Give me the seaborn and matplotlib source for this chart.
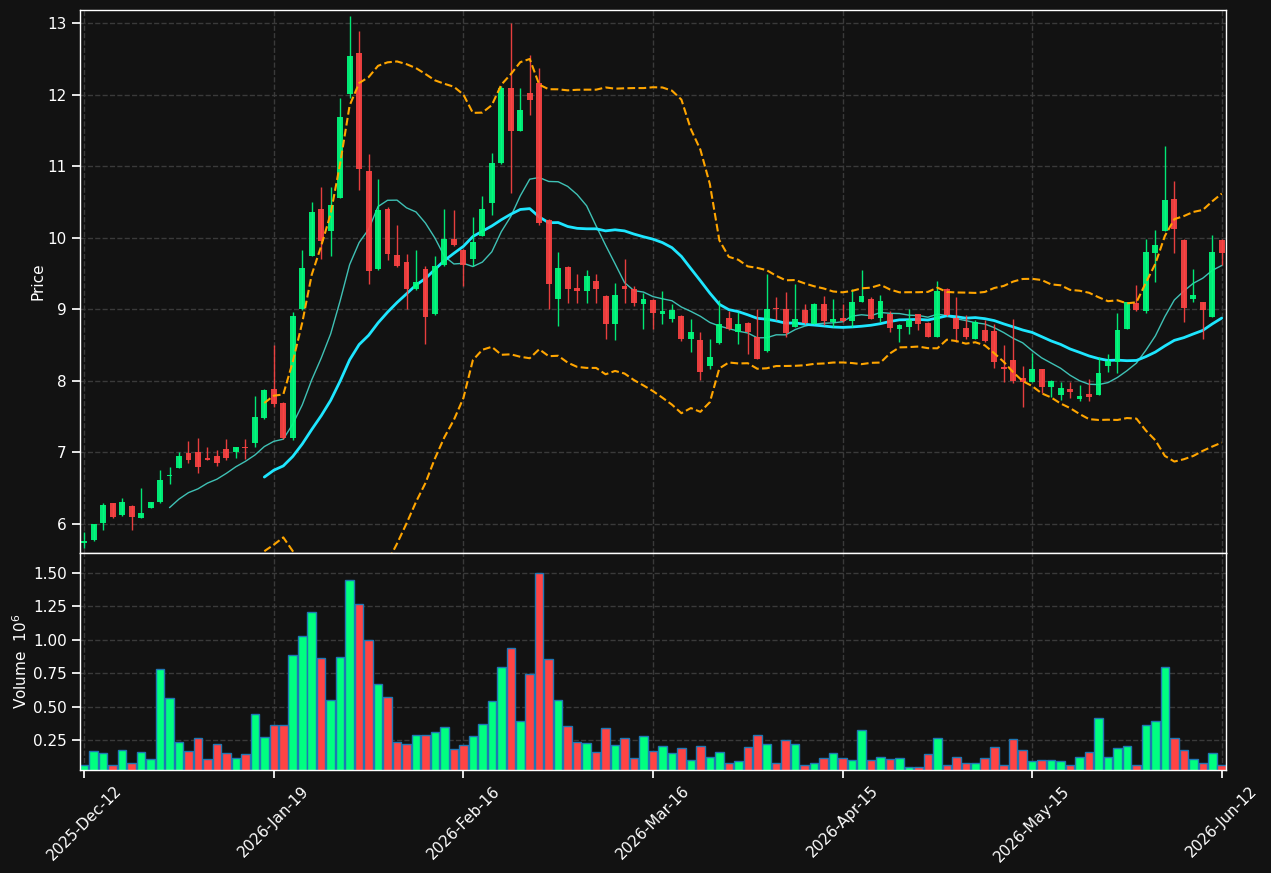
import numpy as np
import pandas as pd
import matplotlib
matplotlib.use('agg')
import matplotlib.pyplot as plt
import seaborn as sns

# daily OHLC (121 sessions)
opens = [5.74, 5.78, 6.01, 6.29, 6.12, 6.25, 6.09, 6.23, 6.31, 6.67,
         6.79, 6.99, 7.00, 6.92, 6.95, 7.05, 7.01, 7.08, 7.13, 7.48,
         7.89, 7.69, 7.20, 9.00, 9.75, 10.40, 10.10, 10.56, 12.01, 12.58,
         10.94, 9.56, 10.40, 9.76, 9.66, 9.28, 9.57, 8.93, 9.62, 9.99,
         9.83, 9.71, 10.03, 10.48, 11.04, 12.10, 11.50, 12.02, 12.16, 10.25,
         9.15, 9.59, 9.30, 9.26, 9.40, 9.19, 8.79, 9.33, 9.29, 9.07,
         9.13, 8.94, 8.87, 8.91, 8.59, 8.57, 8.21, 8.53, 8.88, 8.69,
         8.81, 8.61, 8.42, 9.02, 9.01, 8.76, 8.99, 8.80, 9.08, 8.83,
         8.88, 8.84, 9.11, 9.14, 8.88, 8.94, 8.73, 8.76, 8.93, 8.81,
         8.62, 9.29, 8.88, 8.74, 8.59, 8.71, 8.70, 8.19, 8.29, 8.04,
         7.99, 8.16, 7.91, 7.80, 7.89, 7.75, 7.82, 7.80, 8.21, 8.26,
         8.73, 9.09, 8.98, 9.79, 10.10, 10.54, 9.97, 9.15, 9.10, 8.90,
         9.97]
highs = [5.89, 6.00, 6.30, 6.30, 6.37, 6.26, 6.51, 6.31, 6.75, 6.80,
         7.00, 7.16, 7.20, 7.08, 7.04, 7.19, 7.08, 7.19, 7.79, 7.89,
         8.50, 7.70, 8.97, 9.83, 10.50, 10.71, 10.71, 11.96, 13.10, 12.89,
         11.17, 10.82, 10.43, 10.18, 9.78, 9.83, 9.61, 9.75, 10.40, 10.39,
         9.84, 10.29, 10.59, 11.19, 12.12, 13.00, 12.09, 12.56, 12.38, 10.27,
         9.80, 9.60, 9.49, 9.55, 9.49, 9.20, 9.37, 9.70, 9.33, 9.23,
         9.14, 9.26, 9.07, 8.92, 8.86, 8.68, 8.58, 9.13, 8.98, 8.97,
         8.82, 9.00, 9.50, 9.18, 9.25, 9.36, 9.08, 9.09, 9.19, 9.14,
         9.08, 9.29, 9.55, 9.17, 9.20, 8.98, 8.79, 9.00, 8.94, 8.83,
         9.40, 9.30, 9.17, 8.92, 8.85, 8.85, 8.80, 8.50, 8.86, 8.21,
         8.39, 8.17, 8.01, 7.99, 7.98, 7.94, 8.03, 8.34, 8.38, 8.95,
         9.11, 9.34, 9.98, 10.11, 11.28, 10.80, 9.98, 9.56, 9.11, 10.04,
         9.98]
lows = [5.67, 5.77, 5.91, 6.08, 6.11, 5.91, 6.08, 6.22, 6.30, 6.56,
        6.78, 6.86, 6.71, 6.89, 6.81, 6.90, 6.92, 6.91, 7.07, 7.47,
        7.63, 7.19, 7.18, 8.99, 9.74, 9.70, 9.75, 10.55, 11.96, 10.67,
        9.36, 9.55, 9.69, 9.59, 9.00, 9.27, 8.51, 8.92, 9.61, 9.89,
        9.32, 9.60, 10.02, 10.32, 11.03, 10.62, 11.49, 11.72, 10.18, 9.00,
        8.77, 9.09, 9.09, 9.09, 9.09, 8.59, 8.57, 9.09, 9.05, 8.72,
        8.72, 8.80, 8.83, 8.56, 8.40, 8.01, 8.16, 8.52, 8.71, 8.52,
        8.37, 8.30, 8.41, 8.85, 8.61, 8.75, 8.80, 8.79, 8.78, 8.76,
        8.83, 8.75, 9.10, 8.86, 8.83, 8.69, 8.55, 8.65, 8.71, 8.61,
        8.61, 8.91, 8.55, 8.59, 8.58, 8.55, 8.18, 7.99, 7.97, 7.63,
        7.98, 7.83, 7.78, 7.74, 7.76, 7.72, 7.72, 7.80, 8.12, 8.11,
        8.72, 8.98, 8.95, 9.38, 10.09, 9.79, 8.82, 9.10, 8.59, 8.89,
        9.62]
closes = [5.76, 6.00, 6.27, 6.10, 6.31, 6.10, 6.15, 6.31, 6.61, 6.69,
          6.95, 6.90, 6.80, 6.90, 6.86, 6.92, 7.07, 7.06, 7.49, 7.88,
          7.68, 7.20, 8.91, 9.58, 10.36, 9.96, 10.46, 11.69, 12.54, 10.96,
          9.53, 10.39, 9.78, 9.60, 9.29, 9.38, 8.90, 9.60, 9.98, 9.90,
          9.62, 9.94, 10.40, 11.04, 12.10, 11.50, 11.79, 11.93, 10.21, 9.35,
          9.58, 9.29, 9.26, 9.47, 9.29, 8.80, 9.20, 9.29, 9.09, 9.15,
          8.95, 8.98, 8.99, 8.59, 8.68, 8.12, 8.33, 8.80, 8.72, 8.80,
          8.69, 8.31, 9.00, 9.00, 8.67, 8.86, 8.81, 9.08, 8.84, 8.86,
          8.84, 9.10, 9.19, 8.87, 9.12, 8.74, 8.78, 8.85, 8.80, 8.62,
          9.26, 8.92, 8.73, 8.62, 8.82, 8.56, 8.27, 8.16, 8.00, 7.99,
          8.16, 7.92, 8.00, 7.90, 7.84, 7.79, 7.78, 8.11, 8.28, 8.71,
          9.10, 8.99, 9.80, 9.90, 10.53, 10.12, 9.02, 9.20, 8.99, 9.80,
          9.79]
# volume in millions
volumes = [0.066, 0.164, 0.149, 0.059, 0.172, 0.074, 0.157, 0.104, 0.783, 0.564,
           0.232, 0.164, 0.263, 0.104, 0.217, 0.149, 0.112, 0.142, 0.444, 0.270,
           0.361, 0.361, 0.889, 1.025, 1.206, 0.866, 0.549, 0.874, 1.448, 1.266,
           1.001, 0.670, 0.572, 0.232, 0.217, 0.285, 0.285, 0.307, 0.345, 0.180,
           0.210, 0.278, 0.368, 0.542, 0.798, 0.941, 0.391, 0.740, 1.500, 0.859,
           0.549, 0.353, 0.232, 0.225, 0.157, 0.338, 0.210, 0.263, 0.112, 0.278,
           0.164, 0.202, 0.149, 0.187, 0.097, 0.202, 0.119, 0.157, 0.074, 0.089,
           0.195, 0.285, 0.217, 0.081, 0.247, 0.217, 0.066, 0.074, 0.112, 0.149,
           0.112, 0.097, 0.323, 0.097, 0.119, 0.104, 0.112, 0.051, 0.044, 0.142,
           0.263, 0.066, 0.119, 0.081, 0.081, 0.112, 0.195, 0.066, 0.255, 0.172,
           0.089, 0.097, 0.097, 0.089, 0.059, 0.119, 0.157, 0.413, 0.119, 0.187,
           0.202, 0.059, 0.361, 0.391, 0.798, 0.263, 0.172, 0.104, 0.081, 0.149,
           0.066]

tick_pos = [0, 20, 40, 60, 80, 100, 120]
tick_labels = ['2025-Dec-12', '2026-Jan-19', '2026-Feb-16', '2026-Mar-16',
               '2026-Apr-15', '2026-May-15', '2026-Jun-12']

df = pd.DataFrame({'open': opens, 'high': highs, 'low': lows,
                   'close': closes, 'volume': volumes})
df['idx'] = np.arange(len(df))
df['dir'] = np.where(df['close'] >= df['open'], 'up', 'down')
df['ma10'] = df['close'].rolling(10).mean()
df['ma20'] = df['close'].rolling(20).mean()
std20 = df['close'].rolling(20).std(ddof=0)
df['bb_up'] = df['ma20'] + 2 * std20
df['bb_lo'] = df['ma20'] - 2 * std20

bg = '#121212'
up_col, down_col = '#00ff80', '#ff4444'
sns.set_theme(context='notebook', style='darkgrid', rc={
    'figure.facecolor': bg, 'axes.facecolor': bg, 'axes.edgecolor': 'white',
    'axes.labelcolor': 'white', 'text.color': 'white',
    'xtick.color': 'white', 'ytick.color': 'white',
    'xtick.bottom': True, 'ytick.left': True,
    'grid.color': '#3a3a3a', 'grid.linestyle': '--', 'grid.linewidth': 1.0,
    'axes.linewidth': 1.0,
})

fig = plt.figure(figsize=(12.71, 8.73), dpi=100)
ax = fig.add_axes([0.0629, 0.3666, 0.9017, 0.622])
axv = fig.add_axes([0.0629, 0.118, 0.9017, 0.2486], sharex=ax)

colors = [up_col if d == 'up' else down_col for d in df['dir']]

# moving averages below the candles
sns.lineplot(data=df, x='idx', y='ma10', color='#3fc1b5', linewidth=1.0, ax=ax, zorder=1.5)
sns.lineplot(data=df, x='idx', y='ma20', color='#1ee6ff', linewidth=2.0, ax=ax, zorder=1.6)

# candles
ax.vlines(df['idx'], df['low'], df['high'], colors=colors, linewidth=1.0, alpha=0.9, zorder=2)
body = np.maximum((df['close'] - df['open']).abs(), 0.02)
ax.bar(df['idx'], body, bottom=np.minimum(df['open'], df['close']), width=0.62,
       color=colors, alpha=0.9, linewidth=0, zorder=2.1)

# bollinger bands
sns.lineplot(data=df, x='idx', y='bb_up', color='orange', linestyle='--', linewidth=1.5, ax=ax, zorder=3)
sns.lineplot(data=df, x='idx', y='bb_lo', color='orange', linestyle='--', linewidth=1.5, ax=ax, zorder=3)

ax.set_ylim(5.596, 13.185)
ax.set_yticks(range(6, 14))
ax.set_ylabel('Price', fontsize=11, labelpad=1)
ax.set_xlabel('')
ax.tick_params(labelbottom=False)

# volume panel
sns.barplot(data=df, x='idx', y='volume', hue='dir', palette={'up': up_col, 'down': down_col},
            native_scale=True, width=0.9, dodge=False, errorbar=None, legend=False,
            saturation=1, edgecolor='#1f77b4', linewidth=1.0, ax=axv)
axv.set_ylim(0.025, 1.65)
axv.set_yticks([0.25, 0.5, 0.75, 1.0, 1.25, 1.5])
axv.set_ylabel('Volume  $10^6$', fontsize=11, labelpad=2)
axv.set_xlabel('')
axv.set_xlim(-0.45, 120.45)
axv.set_xticks(tick_pos)
axv.set_xticklabels(tick_labels, rotation=45, ha='center')

for a in (ax, axv):
    a.grid(True, color='#3a3a3a', linestyle='--')
    a.set_axisbelow(True)
    for s in a.spines.values():
        s.set_color('white')
        s.set_visible(True)

fig.savefig('out.png', dpi=100, facecolor=bg)
